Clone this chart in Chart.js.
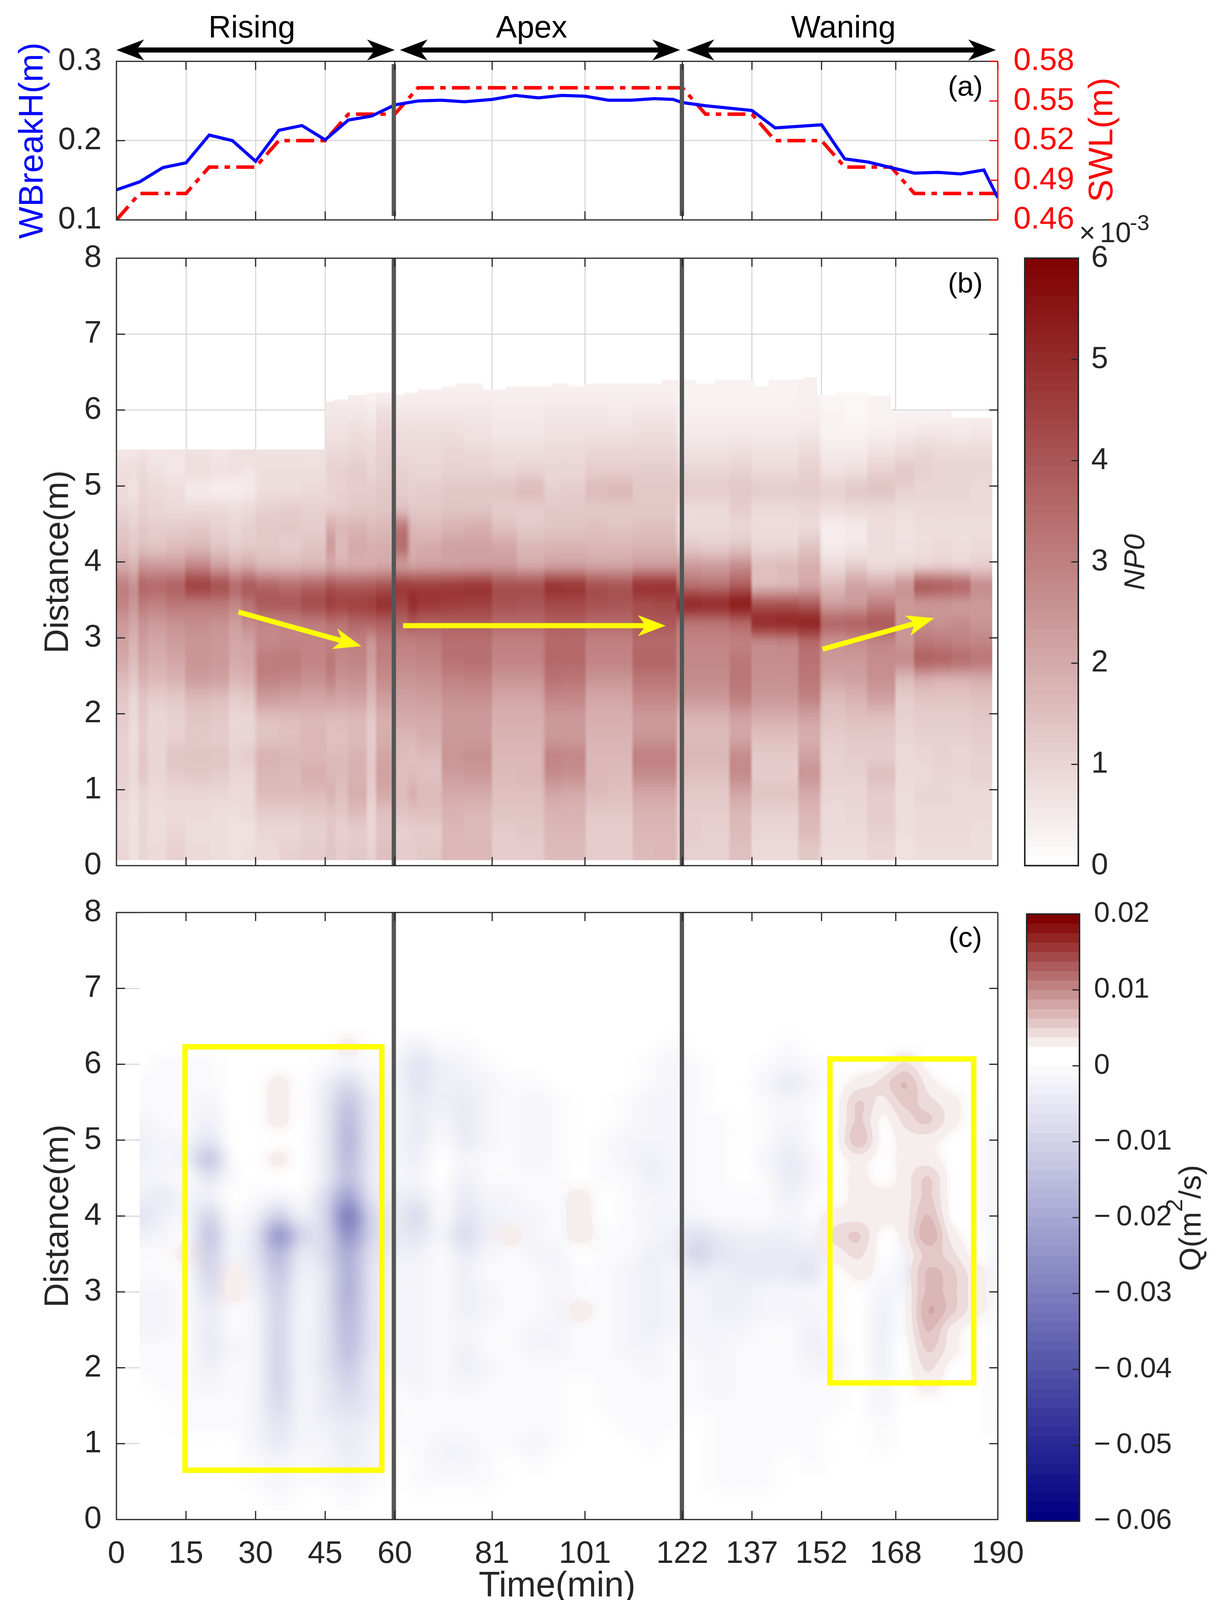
<!DOCTYPE html>
<html>
<head>
<meta charset="utf-8">
<title>NP0 and Q</title>
<script src="https://cdn.jsdelivr.net/npm/chart.js@4"></script>
<style>
  html, body { margin: 0; background: #fff; }
  #fig { position: relative; width: 3115px; height: 4130px; overflow: hidden; background: #fff; }
  canvas { position: absolute; }
</style>
</head>
<body>
<div id="fig"></div>
<script>
// tick values
const timeTicks = [0, 15, 30, 45, 60, 81, 101, 122, 137, 152, 168, 190];
const distTicks = [0, 1, 2, 3, 4, 5, 6, 7, 8];
const waveTicks = [0.1, 0.2, 0.3];
const swlTicks = [0.46, 0.49, 0.52, 0.55, 0.58];
const npBarTicks = [0, 1, 2, 3, 4, 5, 6];
const qBarTicks = [-0.06, -0.05, -0.04, -0.03, -0.02, -0.01, 0, 0.01, 0.02];
const qBarLabels = ['\u2212\u20090.06', '\u2212\u20090.05', '\u2212\u20090.04', '\u2212\u20090.03', '\u2212\u20090.02', '\u2212\u20090.01', '0', '0.01', '0.02'];
const phaseDividers = [59.8, 121.9];

// panel (a)
const lineTimes = [0, 5, 10, 15, 20, 25, 30, 35, 40, 45, 50, 55, 60, 65, 70, 75, 81, 86, 91, 96, 101, 106, 111, 116, 120, 122, 127, 132, 137, 142, 147, 152, 157, 162, 167, 172, 177, 182, 187, 190];
const waveBreak = [0.138, 0.148, 0.166, 0.172, 0.207, 0.2, 0.174, 0.213, 0.219, 0.201, 0.226, 0.231, 0.245, 0.25, 0.251, 0.249, 0.252, 0.257, 0.254, 0.257, 0.256, 0.251, 0.251, 0.253, 0.252, 0.248, 0.244, 0.241, 0.238, 0.216, 0.218, 0.22, 0.177, 0.173, 0.166, 0.159, 0.16, 0.158, 0.163, 0.128];
const swlValues = [0.46, 0.48, 0.48, 0.48, 0.5, 0.5, 0.5, 0.52, 0.52, 0.52, 0.54, 0.54, 0.54, 0.56, 0.56, 0.56, 0.56, 0.56, 0.56, 0.56, 0.56, 0.56, 0.56, 0.56, 0.56, 0.56, 0.54, 0.54, 0.54, 0.52, 0.52, 0.52, 0.5, 0.5, 0.5, 0.48, 0.48, 0.48, 0.48, 0.48];

// panel (b): NP0 x 1e-3, one profile per time block, bottom to top
const npEdges = [0, 3, 5, 7, 11, 15, 20, 24, 27, 30, 35, 40, 45, 47, 50, 54, 56, 60, 63, 65, 70, 75, 81, 86, 92, 96, 101, 106, 111, 116, 121, 126, 132, 137, 142, 147, 152, 157, 162, 168, 172, 176, 180, 184, 188.8];
const npRows = [0.195, 0.445, 0.695, 0.945, 1.195, 1.445, 1.695, 1.945, 2.195, 2.445, 2.695, 2.945, 3.195, 3.445, 3.695, 3.945, 4.195, 4.445, 4.695, 4.945, 5.195, 5.445, 5.695, 5.945, 6.195, 6.445];
const npValues = [
  [1.0,0.9,0.9,1.0,1.1,1.1,1.1,1.2,1.3,1.6,2.0,2.2,2.4,2.9,3.0,2.0,1.5,1.3,1.0,0.8,0.8,0.6,0.6,0.6,0.6,0.6],
  [0.7,0.7,0.7,0.8,0.9,0.9,0.8,0.9,1.0,1.3,1.6,1.8,2.1,2.5,2.6,1.8,1.3,1.1,0.9,0.7,0.8,0.6,0.6,0.6,0.6,0.6],
  [1.0,1.0,1.0,1.0,1.3,1.3,1.2,1.3,1.4,1.8,2.1,2.3,2.6,3.1,3.6,2.5,1.5,1.3,1.1,1.0,0.9,0.7,0.6,0.6,0.6,0.6],
  [0.9,0.8,0.8,0.9,1.0,1.0,1.0,1.0,1.2,1.6,1.9,2.1,2.4,3.0,3.5,2.4,1.4,1.2,1.0,0.9,0.7,0.6,0.6,0.6,0.6,0.6],
  [1.1,1.0,0.9,1.0,1.2,1.4,1.1,1.1,1.3,1.8,2.1,2.3,2.6,3.2,3.7,2.4,1.6,1.2,0.9,0.8,0.6,0.6,0.6,0.6,0.6,0.6],
  [0.9,0.8,0.9,1.0,1.3,1.4,1.3,1.4,1.6,2.3,2.5,2.5,2.7,3.2,4.5,2.9,1.7,1.3,0.9,0.5,0.8,0.7,0.6,0.6,0.6,0.6],
  [0.8,0.8,0.8,1.0,1.2,1.4,1.2,1.3,1.5,2.2,2.4,2.4,2.6,3.2,4.1,2.3,1.4,1.1,0.9,0.4,0.7,0.6,0.6,0.6,0.6,0.6],
  [0.7,0.7,0.8,0.9,1.0,1.1,1.0,1.0,1.2,1.7,2.0,2.1,2.3,2.9,3.5,1.9,1.2,1.0,0.8,0.4,0.7,0.7,0.6,0.6,0.6,0.6],
  [0.8,0.7,0.9,0.9,1.0,1.2,1.0,1.0,1.3,1.8,2.1,2.2,2.7,3.3,3.9,2.1,1.3,1.1,0.9,0.5,0.6,0.8,0.6,0.6,0.6,0.6],
  [0.9,1.0,1.2,1.6,1.7,1.8,1.4,1.5,2.3,2.9,3.1,2.8,2.9,3.9,3.6,1.7,1.3,1.3,1.1,0.8,0.8,0.7,0.6,0.6,0.6,0.6],
  [1.1,1.0,1.2,1.6,1.6,1.7,1.5,1.6,2.2,2.8,3.1,2.9,3.0,3.9,3.4,1.7,1.2,1.3,1.2,0.8,0.8,0.7,0.6,0.6,0.6,0.6],
  [1.2,1.1,1.3,1.6,1.9,1.7,1.7,1.7,2.1,2.6,2.9,2.9,3.1,4.2,3.6,1.8,1.4,1.2,1.1,0.9,0.8,0.7,0.6,0.6,0.6,0.6],
  [1.4,1.3,1.4,1.8,1.7,1.6,1.5,1.6,2.2,2.9,3.2,3.0,3.4,4.6,4.0,2.1,2.3,2.0,1.2,1.0,1.1,0.9,0.7,0.6,0.5,0.5],
  [1.2,1.1,1.3,1.5,1.6,1.6,1.5,1.6,2.1,2.5,2.8,2.9,3.3,4.4,3.8,1.9,1.6,1.7,1.2,1.1,1.1,0.9,0.7,0.6,0.4,0.4],
  [1.3,1.2,1.6,1.9,1.8,1.8,1.6,1.7,2.2,2.6,2.9,3.0,3.6,4.5,3.8,2.0,2.0,1.8,1.3,1.2,1.2,1.0,0.8,0.6,0.4,0.4],
  [1.1,1.0,1.0,1.2,1.3,1.3,1.2,1.3,1.7,2.0,2.3,2.5,3.6,4.6,3.8,2.0,1.9,1.6,1.3,1.2,1.0,0.9,0.7,0.5,0.3,0.3],
  [1.5,1.4,1.5,2.0,2.2,2.1,1.9,1.9,2.3,2.7,3.0,3.1,3.8,4.9,4.0,2.1,1.9,1.7,1.4,1.3,1.2,1.1,1.0,0.8,0.4,0.3],
  [1.2,1.1,1.4,1.6,1.5,1.6,1.7,2.0,2.2,2.5,2.8,3.0,3.6,4.4,4.6,2.4,3.4,3.2,1.5,1.2,1.1,0.9,0.8,0.6,0.4,0.3],
  [1.2,1.2,1.5,1.9,1.6,1.5,1.7,2.0,2.2,2.5,2.8,3.0,3.9,5.0,4.5,2.2,1.9,1.7,1.3,1.1,1.0,0.9,0.8,0.6,0.4,0.3],
  [1.3,1.2,1.5,1.6,1.5,1.6,1.9,2.0,2.3,2.6,2.9,3.1,3.7,4.7,4.5,2.3,2.0,1.6,1.3,1.2,1.0,0.9,0.8,0.6,0.4,0.3],
  [1.7,1.7,1.8,2.0,2.3,2.5,2.4,2.4,2.6,2.9,3.3,3.4,3.8,4.6,4.6,2.3,2.2,1.8,1.4,1.3,1.1,1.0,0.8,0.6,0.4,0.3],
  [1.7,1.6,1.7,2.0,2.4,2.6,2.4,2.4,2.6,3.0,3.4,3.4,3.8,4.5,4.7,2.4,2.2,1.9,1.4,1.3,1.1,0.9,0.7,0.6,0.4,0.3],
  [1.2,1.2,1.4,1.5,1.6,1.7,1.8,1.9,2.1,2.5,2.9,3.0,3.5,4.1,4.1,2.4,2.1,1.5,1.2,1.4,1.0,0.8,0.6,0.5,0.4,0.3],
  [1.2,1.3,1.4,1.5,1.7,1.7,1.8,1.9,2.1,2.5,2.9,3.0,3.5,4.0,4.1,2.1,1.7,1.3,1.2,1.6,1.1,0.8,0.6,0.5,0.4,0.3],
  [1.6,1.7,1.8,2.1,2.7,2.9,2.4,2.4,2.8,3.3,3.5,3.5,3.8,4.3,4.8,2.3,1.8,1.4,1.3,1.1,1.0,0.9,0.7,0.6,0.4,0.3],
  [1.6,1.7,1.8,2.0,2.6,2.8,2.4,2.4,2.8,3.2,3.5,3.5,3.8,4.3,4.7,2.3,1.8,1.4,1.3,1.2,1.0,0.9,0.7,0.6,0.4,0.3],
  [1.2,1.2,1.3,1.6,1.7,1.7,1.8,1.9,2.1,2.5,2.9,3.0,3.5,4.1,4.1,2.2,1.7,1.5,1.3,1.6,1.2,1.0,0.7,0.6,0.4,0.3],
  [1.2,1.2,1.3,1.5,1.6,1.7,1.8,1.9,2.1,2.5,2.9,3.0,3.5,4.0,4.0,2.2,1.7,1.4,1.3,1.7,1.2,1.0,0.7,0.5,0.4,0.3],
  [1.6,1.7,1.8,2.1,2.7,3.0,2.5,2.4,2.8,3.2,3.6,3.5,3.9,4.2,4.8,2.4,1.8,1.5,1.3,1.3,1.2,1.0,0.8,0.6,0.4,0.4],
  [1.7,1.7,1.8,2.1,2.7,3.0,2.5,2.4,2.8,3.2,3.6,3.5,3.9,4.3,4.8,2.4,1.8,1.5,1.3,1.3,1.2,1.0,0.8,0.6,0.4,0.4],
  [1.1,1.2,1.2,1.3,1.5,1.7,1.6,1.8,2.4,2.7,2.8,2.9,3.3,5.1,3.4,2.4,1.3,0.9,0.9,1.2,1.0,0.7,0.5,0.4,0.3,0.3],
  [1.1,1.1,1.2,1.3,1.5,1.7,1.6,1.8,2.4,2.7,2.8,2.9,3.3,5.0,3.3,2.3,1.2,0.9,0.9,1.2,1.0,0.7,0.5,0.4,0.3,0.3],
  [1.5,1.6,1.7,2.1,2.7,2.7,2.1,2.2,3.0,3.2,3.2,3.0,3.6,5.4,3.8,2.7,1.4,1.0,1.2,1.3,1.1,0.8,0.5,0.4,0.3,0.3],
  [0.9,1.0,1.1,1.4,1.2,1.3,1.5,1.9,2.4,2.6,2.7,2.8,5.0,4.0,1.6,1.5,1.0,0.8,0.9,1.2,0.9,0.7,0.5,0.4,0.3,0.3],
  [0.9,1.0,1.1,1.4,1.2,1.3,1.5,1.9,2.4,2.6,2.7,2.9,5.1,4.0,1.7,1.6,1.0,0.8,0.9,1.2,0.9,0.7,0.5,0.4,0.3,0.3],
  [1.3,1.6,1.7,2.0,2.5,2.2,1.9,2.2,2.9,3.2,3.3,3.5,5.2,3.8,2.1,1.9,1.4,0.9,1.0,1.2,1.1,0.9,0.6,0.4,0.4,0.4],
  [0.8,0.9,0.9,1.0,1.1,1.1,1.2,1.4,1.6,2.1,2.4,2.6,3.6,2.3,1.6,0.9,0.5,0.4,0.8,1.1,0.7,0.5,0.3,0.3,0.2,0.2],
  [0.8,0.9,1.0,1.0,1.1,1.2,1.3,1.5,1.8,2.2,2.4,2.7,3.7,2.4,2.2,1.2,0.6,0.5,0.9,1.3,0.8,0.5,0.3,0.2,0.2,0.2],
  [1.0,1.1,1.2,1.2,1.5,1.2,1.3,1.5,2.2,2.6,2.7,2.9,3.9,3.0,2.0,0.9,0.8,0.8,0.9,1.4,1.1,0.7,0.4,0.3,0.3,0.3],
  [0.7,0.8,0.8,0.8,0.9,0.9,1.0,1.1,1.2,1.6,2.7,2.5,2.5,2.4,2.5,1.0,0.7,0.7,0.8,1.1,1.3,0.9,0.5,0.3,0.3,0.3],
  [0.8,0.9,0.9,1.0,0.9,1.0,1.1,1.2,1.4,1.9,3.7,3.2,2.7,2.5,3.9,1.1,0.8,0.8,0.9,1.0,1.1,1.0,0.6,0.3,0.3,0.3],
  [0.8,0.9,0.9,1.0,1.0,1.1,1.1,1.2,1.4,1.8,3.6,3.1,2.6,2.5,3.8,1.2,0.9,0.8,0.9,1.0,1.0,0.9,0.6,0.3,0.3,0.3],
  [0.8,0.9,0.9,0.9,1.0,1.0,1.1,1.2,1.4,1.8,3.4,3.0,2.7,2.4,3.6,1.1,0.8,0.8,0.9,1.0,1.0,0.9,0.5,0.4,0.3,0.3],
  [0.8,0.8,0.9,0.9,1.1,1.1,1.2,1.3,1.5,1.9,3.2,2.9,2.5,2.4,2.7,1.2,0.9,0.8,0.9,0.9,1.0,0.9,0.6,0.4,0.3,0.3]
];
// upper limit of the NP0 data along time
const npTopT = [0, 45, 47, 50, 54, 60, 62, 65, 70, 73, 79, 84, 94, 97.5, 101, 117.6, 125, 129, 137.6, 140.6, 148, 151, 155, 162, 167, 180, 188.8];
const npTopY = [5.48, 6.11, 6.14, 6.2, 6.23, 6.2, 6.23, 6.27, 6.31, 6.35, 6.27, 6.31, 6.35, 6.31, 6.35, 6.4, 6.35, 6.4, 6.31, 6.4, 6.43, 6.2, 6.23, 6.19, 5.99, 5.9];

// panel (c): Q x 1e-3, one profile per time, bottom to top
const qTimes = [5, 10, 15, 20, 25, 30, 35, 40, 45, 50, 55, 60, 65, 70, 75, 80, 85, 90, 95, 100, 105, 110, 115, 120, 125, 130, 135, 140, 145, 150, 155, 160, 165, 170, 175, 180, 185, 190];
const qRows = [0.25, 0.5, 0.75, 1, 1.25, 1.5, 1.75, 2, 2.25, 2.5, 2.75, 3, 3.25, 3.5, 3.75, 4, 4.25, 4.5, 4.75, 5, 5.25, 5.5, 5.75, 6, 6.25, 6.5];
const qValues = [
  [0,0,0,0,0,0,0,-1,-1,-2,-2,-2,-1,-1,-3,-6,-3,-2,-3,-3.5,-2,-1,-1,0,0,0],
  [0,0,0,0,0,0,-1,-1,-1,-2,-2,-2,-1,-1,-2,-3,-4,-2,-2,-2,-1,-1,-1,-1,0,0],
  [0,0,0,0,-1,-1,-1,-1,-1,-1,-1,-1,-1,3,-1,-2,-2,-1,-3,-2,-1,-1,-1,-1,0,0],
  [0,0,0,0,-1,-1,-2,-3,-4.5,-4,-5,-7,-9,-11,-13,-9,-3,-6,-13,-6,-3,-2,-1,-1,0,0],
  [0,0,0,0,-1,-1,-1,-1,-2,-1,-1,3,3,-2,-2,-1,0,-1,-1,0,0,0,0,0,0,0],
  [0,-1,-1,-2,-2,-2,-2,-2.5,-2.5,-2,-2.5,-3,-4,-6,-6,-3,-1,0,0,0,0,0,0,0,0,0],
  [-1,-2,-2.5,-4,-6,-8,-9,-10,-9,-10,-10,-11,-13,-17,-25,-11,-2,0,3,0,3,3,3,0,0,0],
  [0,-1,-1,-2,-2,-2,-2,-2,-2,-2,-2,-2,-3,-5,-9,-3,-1,0,0,0,0,0,0,0,0,0],
  [0,-1,-2,-2,-3,-4,-5,-6,-6,-6,-6,-6,-6,-8,-8,-9,-8,-4,-4,-4,-4,-4,-3,-1,0,0],
  [-1,-2,-3,-4,-5,-7,-9,-12,-14,-16,-17,-18,-18,-20,-26,-31,-22,-15,-16,-17,-16,-13,-8,-2,3,0],
  [0,-1,-2,-2,-3,-4,-4,-5,-6,-6,-6,-6,-6,-7,-9,-9,-6,-4,-4,-4,-4,-4,-2,-1,0,0],
  [0,0,0,-1,-1,-1,-1,-2,-2,-2,-2,-2,-2,-3,-4,-4,-3,-2,-2,-2,-2,-2,-2,-2,-1,0],
  [0,-1,-1,-1,-1,-1,-2,-2,-2,-2,-2,-2,-2,-3,-6,-8,-5,-2,-3,-5,-4,-4,-6,-6,-3,0],
  [0,-1,-2,-2,-1,-1,-1,-1,-1,-1,-1,-1,-1,-1,-2,-1,-1,0,0,-1,-2,-3,-3,-3,-1,0],
  [0,-1,-2,-2,-1,-1,-2,-3,-3,-2,-3,-3,-3,-5,-8,-6,-5,-3,-2,-4,-4,-4,-3,-2,-1,0],
  [0,-1,-1,-1,-1,-1,-1,-2,-1,-1,-2,-2,-1,-2,-3,-3,-2,-1,-1,-2,-2,-2,-2,-1,0,0],
  [0,0,0,-1,-1,-1,-1,-1,-1,-1,-1,-1,-1,-1,3,-2,-2,-1,-1,-1,-1,-1,-1,0,0,0],
  [0,0,-1,-2,-1,-1,-1,-1,-2,-2,-1,-1,-1,-2,-2,-2,-1,-1,-2,-2,-2,-2,-1,0,0,0],
  [0,0,0,-1,-1,-1,-1,-1,-2,-2,-2,-2,-2,-2,-1,-1,-1,-1,-1,-1,-1,-1,0,0,0,0],
  [0,0,0,0,0,0,0,-1,-1,-1,3,-1,-1,0,3,3,3,0,0,0,0,0,0,0,0,0],
  [0,0,0,0,0,-1,-1,-1,-1,-1,-1,-1,-1,-1,-1,0,0,-1,-1,-1,0,0,0,0,0,0],
  [0,0,0,0,-1,-1,-1,-1,-2,-2,-2,-2,-2,-1,-1,-1,-1,-1,-2,-2,-1,-1,0,0,0,0],
  [0,0,0,-1,-1,-1,-1,-2,-2,-3,-3,-3,-3,-3,-2,-2,-2,-3,-3,-2,-2,-2,-1,-1,0,0],
  [0,0,0,0,-1,-1,-1,-1,-1,-2,-2,-2,-2,-3,-3,-2,-2,-2,-2,-2,-2,-2,-2,-2,-1,0],
  [0,0,0,0,0,-1,-1,-1,-2,-2,-2,-2,-4,-10,-7,-2,-1,-1,-1,-1,-1,-1,-1,-1,0,0],
  [0,-1,-1,-1,-1,-1,-2,-2,-2,-2,-3,-3,-3,-6,-4,-1,-1,-1,-1,-1,-1,0,0,0,0,0],
  [0,-1,-1,-1,-1,-1,-1,-1,-1,-2,-3,-3,-4,-5,-3,-1,-1,0,0,0,0,0,0,0,0,0],
  [0,-1,-1,-1,-1,-1,-1,-1,-1,-1,-2,-2,-5,-5,-3,-1,-1,-1,-2,-1,-1,-1,-2,-1,0,0],
  [0,0,0,-1,-1,-1,-1,-1,-1,-1,-2,-2,-5,-5,-3,-2,-3,-4,-4,-3,-2,-2,-4,-2,-1,0],
  [0,0,-1,-1,-1,-1,-1,-2,-3,-3,-2,-2,-6,-5,-2,-1,-1,-2,-2,-1,-1,-1,-2,-1,0,0],
  [0,0,0,0,0,-1,-1,-2,-2,-1,-1,-1,0,3,4,3,0,0,0,0,0,0,0,0,0,0],
  [0,0,0,0,0,0,0,0,0,0,0,0,3,4,5,3,3,3,3,7,5,5,3,0,0,0],
  [0,0,0,-1,-1,-2,-2.5,-3,-3,-3,-3,-2,-1,0,0,3,3,0,0,0,0,3,4,0,0,0],
  [0,0,0,0,0,0,0,0,0,-1,-1,-2,-3,-2,3,3,3,3,3,3,4,6,7,4,0,0],
  [0,0,0,0,0,0,3,4,6,7,8,7,7,6,8,7,6,5,3,3,5,4,3,0,0,0],
  [0,0,0,0,0,0,0,0,3,3,5,5,5,4,3,0,0,0,0,0,3,3,0,0,0,0],
  [0,0,0,0,0,0,0,0,0,0,3,3,3,0,0,0,0,0,0,0,0,0,0,0,0,0],
  [0,0,0,0,-1,-1,-1,-1,-1,-1,-1,-2,-2,-2,-2,-2,-2,-2,-2,-2,-1,-1,0,0,0,0]
];

const FONT = 'Liberation Sans';
const INK = '#262626';
Chart.defaults.font.family = FONT;
Chart.defaults.animation = false;

const fig = document.getElementById('fig');

function addCanvas(left, top, w, h) {
  const c = document.createElement('canvas');
  c.width = w; c.height = h;
  c.style.left = left + 'px'; c.style.top = top + 'px';
  fig.appendChild(c);
  return c;
}

function npColor(v) {
  const f = Math.min(1, v / 6);
  const g = Math.round(255 * (1 - f));
  return `rgb(${Math.round(255 - 127 * f)},${g},${g})`;
}

// Q colours come in bands 1.25e-3 wide, white around zero
function qColor(v) {
  if (v > 0) {
    const k = Math.max(0, Math.floor(v / 1.25) - 1);
    const f = k / 14, g = Math.round(255 * (1 - f));
    return `rgb(${Math.round(255 - 127 * f)},${g},${g})`;
  }
  const k = Math.ceil(-v / 1.25);
  const f = k / 48, g = Math.round(255 * (1 - f));
  return `rgb(${g},${g},${Math.round(255 - 127 * f)})`;
}

function fixedTicks(values) {
  return s => { s.ticks = values.map(v => ({ value: v })); };
}

// no extra room for half labels, the panels have fixed places
function noPadding(s) {
  s.paddingTop = s.paddingBottom = s.paddingLeft = s.paddingRight = 0;
}

function rotatedText(ctx, text, x, y, font, color) {
  ctx.save();
  ctx.translate(x, y);
  ctx.rotate(-Math.PI / 2);
  ctx.font = font;
  ctx.fillStyle = color;
  ctx.textAlign = 'center';
  ctx.textBaseline = 'middle';
  ctx.fillText(text, 0, 0);
  ctx.restore();
}

function arrowHead(ctx, x, y, ang, len, half) {
  ctx.save();
  ctx.translate(x, y);
  ctx.rotate(ang);
  ctx.beginPath();
  ctx.moveTo(0, 0);
  ctx.lineTo(-len, -half);
  ctx.lineTo(-len * 0.72, 0);
  ctx.lineTo(-len, half);
  ctx.closePath();
  ctx.fill();
  ctx.restore();
}

function arrow(ctx, x0, y0, x1, y1, color, both) {
  const ang = Math.atan2(y1 - y0, x1 - x0);
  const back = 50;
  ctx.save();
  ctx.strokeStyle = color;
  ctx.fillStyle = color;
  ctx.lineWidth = 13;
  ctx.beginPath();
  ctx.moveTo(x0 + (both ? back : 0) * Math.cos(ang), y0 + (both ? back : 0) * Math.sin(ang));
  ctx.lineTo(x1 - back * Math.cos(ang), y1 - back * Math.sin(ang));
  ctx.stroke();
  arrowHead(ctx, x1, y1, ang, 71, 27);
  if (both) arrowHead(ctx, x0, y0, ang + Math.PI, 71, 27);
  ctx.restore();
}

function frame(chart, ctx, rightColor) {
  const a = chart.chartArea, sx = chart.scales.x, sy = chart.scales.y;
  ctx.save();
  ctx.strokeStyle = INK;
  ctx.lineWidth = 3;
  ctx.beginPath();
  ctx.moveTo(a.right, a.top); ctx.lineTo(a.left, a.top);
  ctx.lineTo(a.left, a.bottom); ctx.lineTo(a.right, a.bottom);
  if (!rightColor) ctx.lineTo(a.right, a.top);
  timeTicks.forEach(t => {
    const x = sx.getPixelForValue(t);
    ctx.moveTo(x, a.top); ctx.lineTo(x, a.top + 22);
    ctx.moveTo(x, a.bottom); ctx.lineTo(x, a.bottom - 22);
  });
  sy.ticks.forEach(t => {
    const y = sy.getPixelForValue(t.value);
    ctx.moveTo(a.left, y); ctx.lineTo(a.left + 22, y);
    if (!rightColor) { ctx.moveTo(a.right, y); ctx.lineTo(a.right - 22, y); }
  });
  ctx.stroke();
  ctx.restore();
}

function dividers(chart, ctx, y0, y1) {
  const sx = chart.scales.x;
  ctx.save();
  ctx.strokeStyle = '#555555';
  ctx.lineWidth = 11;
  ctx.beginPath();
  phaseDividers.forEach(t => {
    const x = sx.getPixelForValue(t);
    ctx.moveTo(x, y0); ctx.lineTo(x, y1);
  });
  ctx.stroke();
  ctx.restore();
}

function panelLetter(chart, ctx, text) {
  const s = chart.scales.x;
  ctx.save();
  ctx.font = `73px "${FONT}"`;
  ctx.fillStyle = '#000';
  ctx.textAlign = 'center';
  ctx.textBaseline = 'middle';
  ctx.fillText(text, s.getPixelForValue(183), chart.chartArea.top + 68);
  ctx.restore();
}

// snaps pale red pixels to the colour bands of the Q scale
function bandReds(ctx, x, y, w, h) {
  const img = ctx.getImageData(x, y, w, h), d = img.data;
  for (let i = 0; i < d.length; i += 4) {
    if (d[i] - d[i + 2] > 1) {
      const k = Math.ceil((255 - d[i + 1]) / 255 * 14 - 0.55);
      if (k < 1) continue;
      const f = k / 14;
      d[i] = Math.round(255 - 127 * f);
      d[i + 1] = d[i + 2] = Math.round(255 * (1 - f));
    }
  }
  ctx.putImageData(img, x, y);
}

// turns the cells of a panel into a smooth field, tw x th is the cell raster
function smoothing(cfg) {
  let under = null;
  return {
    id: 'smoothing',
    beforeDatasetsDraw(chart) {
      under = document.createElement('canvas');
      under.width = chart.width; under.height = chart.height;
      under.getContext('2d').drawImage(chart.canvas, 0, 0);
    },
    afterDatasetsDraw(chart) {
      const ctx = chart.ctx, sx = chart.scales.x, sy = chart.scales.y;
      const x0 = sx.getPixelForValue(cfg.t0), x1 = sx.getPixelForValue(cfg.t1);
      const y0 = sy.getPixelForValue(cfg.yTop), y1 = sy.getPixelForValue(cfg.yBottom);
      const tmp = document.createElement('canvas');
      tmp.width = cfg.tw || Math.round((x1 - x0) / 8);
      tmp.height = cfg.th;
      const tc = tmp.getContext('2d');
      tc.imageSmoothingEnabled = false;
      tc.drawImage(chart.canvas, x0, y0, x1 - x0, y1 - y0, 0, 0, tmp.width, tmp.height);
      ctx.clearRect(0, 0, chart.width, chart.height);
      ctx.drawImage(under, 0, 0);
      ctx.save();
      ctx.beginPath();
      cfg.clip(ctx, sx, sy);
      ctx.clip();
      if (cfg.paper) { ctx.fillStyle = '#fff'; ctx.fillRect(0, 0, chart.width, chart.height); }
      ctx.imageSmoothingEnabled = true;
      ctx.imageSmoothingQuality = 'high';
      ctx.drawImage(tmp, x0, y0, x1 - x0, y1 - y0);
      ctx.restore();
      if (cfg.bands) {
        const a = chart.chartArea;
        bandReds(ctx, Math.round(a.left), Math.round(a.top), Math.round(a.right - a.left), Math.round(a.bottom - a.top));
      }
    }
  };
}

function axisX(opts) {
  return Object.assign({
    type: 'linear', min: 0, max: 190,
    afterBuildTicks: fixedTicks(timeTicks),
    grid: { color: '#d9d9d9', lineWidth: 3, drawTicks: false },
    border: { display: false }
  }, opts);
}

function axisDistance() {
  return {
    type: 'linear', min: 0, max: 8, offset: false,
    afterBuildTicks: fixedTicks(distTicks),
    afterFit: s => { s.width = 298; noPadding(s); },
    grid: { color: '#d9d9d9', lineWidth: 3, drawTicks: false, offset: false },
    border: { display: false },
    ticks: { color: INK, font: { size: 80 }, padding: 38, autoSkip: false, maxRotation: 0 },
    title: { display: true, text: 'Distance(m)', color: INK, font: { size: 87, lineHeight: 1.2 }, padding: { top: 98, bottom: 0 } }
  };
}

// panel (a)
new Chart(addCanvas(0, 0, 3115, 640), {
  type: 'line',
  data: {
    datasets: [
      { label: 'WBreakH', yAxisID: 'y', data: lineTimes.map((t, i) => ({ x: t, y: waveBreak[i] })), borderColor: '#0000ff', borderWidth: 8, pointRadius: 0, tension: 0 },
      { label: 'SWL', yAxisID: 'y1', data: lineTimes.map((t, i) => ({ x: t, y: swlValues[i] })), borderColor: '#ff0000', borderWidth: 9, borderDash: [46, 16, 14, 16], pointRadius: 0, tension: 0 }
    ]
  },
  options: {
    responsive: false, devicePixelRatio: 1,
    layout: { padding: { top: 157, bottom: 77 } },
    plugins: { legend: { display: false }, tooltip: { enabled: false } },
    scales: {
      x: axisX({ ticks: { display: false }, afterFit: s => { s.height = 0; noPadding(s); } }),
      y: {
        type: 'linear', min: 0.1, max: 0.3,
        afterBuildTicks: fixedTicks(waveTicks),
        afterFit: s => { s.width = 298; noPadding(s); },
        grid: { color: '#d9d9d9', lineWidth: 3, drawTicks: false },
        border: { display: false },
        ticks: { color: INK, font: { size: 80 }, padding: 38, callback: v => v.toFixed(1) },
        title: { display: true, text: 'WBreakH(m)', color: '#0000ff', font: { size: 87, lineHeight: 1.2 }, padding: { top: 33, bottom: 0 } }
      },
      y1: {
        type: 'linear', position: 'right', min: 0.46, max: 0.58,
        afterBuildTicks: fixedTicks(swlTicks),
        afterFit: s => { s.width = 561; noPadding(s); },
        grid: { display: false },
        border: { display: false },
        ticks: { color: '#ff0000', font: { size: 80 }, padding: 32, callback: v => v.toFixed(2) }
      }
    }
  },
  plugins: [{
    id: 'overlayA',
    afterDraw(chart) {
      const ctx = chart.ctx, a = chart.chartArea, sx = chart.scales.x, s1 = chart.scales.y1;
      dividers(chart, ctx, a.top + 7, a.bottom - 10);
      frame(chart, ctx, '#ff0000');
      ctx.save();
      ctx.strokeStyle = '#ff0000';
      ctx.lineWidth = 3;
      ctx.beginPath();
      ctx.moveTo(a.right, a.top); ctx.lineTo(a.right, a.bottom);
      swlTicks.forEach(v => {
        const y = s1.getPixelForValue(v);
        ctx.moveTo(a.right, y); ctx.lineTo(a.right - 22, y);
      });
      ctx.stroke();
      ctx.restore();
      rotatedText(ctx, 'SWL(m)', 2823, 358, `87px "${FONT}"`, '#ff0000');
      panelLetter(chart, ctx, '(a)');
      // phase arrows above the axes
      const phases = [[0, 60, 29.2, 'Rising'], [61.1, 121.5, 89.5, 'Apex'], [122.9, 189.6, 156.7, 'Waning']];
      ctx.save();
      ctx.font = `80px "${FONT}"`;
      ctx.fillStyle = '#000';
      ctx.textAlign = 'center';
      ctx.textBaseline = 'alphabetic';
      phases.forEach(p => {
        arrow(ctx, sx.getPixelForValue(p[0]), 128, sx.getPixelForValue(p[1]), 128, '#000', true);
        ctx.fillText(p[3], sx.getPixelForValue(p[2]), 96);
      });
      ctx.restore();
    }
  }]
});

// panel (b)
new Chart(addCanvas(0, 620, 3115, 1700), {
  type: 'bar',
  data: {
    datasets: npValues.map((col, i) => ({
      data: col.map((v, j) => ({ x: [npEdges[i], npEdges[i + 1]], y: npRows[j] })),
      backgroundColor: col.map(npColor),
      grouped: false, barPercentage: 1, categoryPercentage: 1, borderWidth: 0, clip: false
    }))
  },
  options: {
    indexAxis: 'y',
    responsive: false, devicePixelRatio: 1,
    layout: { padding: { top: 41, bottom: 104, right: 561 } },
    plugins: { legend: { display: false }, tooltip: { enabled: false } },
    scales: {
      x: axisX({ ticks: { display: false }, afterFit: s => { s.height = 0; noPadding(s); } }),
      y: axisDistance()
    }
  },
  plugins: [smoothing({
    t0: 0, t1: 188.8, yBottom: 0.07, yTop: 6.57, th: npRows.length,
    clip(ctx, sx, sy) {
      ctx.moveTo(sx.getPixelForValue(0), sy.getPixelForValue(0.07));
      npTopY.forEach((top, i) => {
        ctx.lineTo(sx.getPixelForValue(npTopT[i]), sy.getPixelForValue(top));
        ctx.lineTo(sx.getPixelForValue(npTopT[i + 1]), sy.getPixelForValue(top));
      });
      ctx.lineTo(sx.getPixelForValue(188.8), sy.getPixelForValue(0.07));
      ctx.closePath();
    }
  }), {
    id: 'overlayB',
    afterDraw(chart) {
      const ctx = chart.ctx, a = chart.chartArea, sx = chart.scales.x, sy = chart.scales.y;
      dividers(chart, ctx, a.top, a.bottom);
      frame(chart, ctx);
      panelLetter(chart, ctx, '(b)');
      const trends = [[26.3, 3.34, 52.8, 2.89], [61.8, 3.16, 118.4, 3.16], [152.2, 2.85, 176.3, 3.26]];
      trends.forEach(t => arrow(ctx, sx.getPixelForValue(t[0]), sy.getPixelForValue(t[1]), sx.getPixelForValue(t[2]), sy.getPixelForValue(t[3]), '#ffff00'));
    }
  }]
});

// panel (c)
new Chart(addCanvas(0, 2300, 3115, 1830), {
  type: 'bar',
  data: {
    datasets: qValues.map((col, i) => ({
      data: col.map((v, j) => ({ x: [qTimes[i] - 2.5, qTimes[i] + 2.5], y: qRows[j] })),
      backgroundColor: col.map(qColor),
      grouped: false, barPercentage: 1, categoryPercentage: 1, borderWidth: 0, clip: false
    }))
  },
  options: {
    indexAxis: 'y',
    responsive: false, devicePixelRatio: 1,
    layout: { padding: { top: 36, right: 561 } },
    plugins: { legend: { display: false }, tooltip: { enabled: false } },
    scales: {
      x: axisX({
        afterFit: s => { s.height = 240; noPadding(s); },
        ticks: { color: INK, font: { size: 80 }, padding: 41, autoSkip: false, maxRotation: 0 },
        title: { display: true, text: 'Time(min)', color: INK, font: { size: 90, lineHeight: 1.2 }, padding: { top: 0, bottom: 14 } }
      }),
      y: axisDistance()
    }
  },
  plugins: [smoothing({
    t0: 2.5, t1: 192.5, yBottom: 0.125, yTop: 6.625, tw: qTimes.length, th: qRows.length, paper: true, bands: true,
    clip(ctx, sx, sy) {
      ctx.rect(sx.getPixelForValue(5), sy.getPixelForValue(8), sx.getPixelForValue(190) - sx.getPixelForValue(5), sy.getPixelForValue(0) - sy.getPixelForValue(8));
    }
  }), {
    id: 'overlayC',
    afterDraw(chart) {
      const ctx = chart.ctx, a = chart.chartArea, sx = chart.scales.x, sy = chart.scales.y;
      dividers(chart, ctx, a.top, a.bottom);
      frame(chart, ctx);
      panelLetter(chart, ctx, '(c)');
      const boxes = [[14.8, 6.23, 57.2, 0.65], [153.8, 6.07, 184.8, 1.8]];
      ctx.save();
      ctx.strokeStyle = '#ffff00';
      ctx.lineWidth = 14;
      boxes.forEach(b => {
        const x = sx.getPixelForValue(b[0]), y = sy.getPixelForValue(b[1]);
        ctx.strokeRect(x, y, sx.getPixelForValue(b[2]) - x, sy.getPixelForValue(b[3]) - y);
      });
      ctx.restore();
    }
  }]
});

// colour bars
function colorBar(left, top, w, h, pad, bands, color, min, max, tickVals, tickLabels, tickPad, tickSize, extra) {
  new Chart(addCanvas(left, top, w, h), {
    type: 'bar',
    data: {
      datasets: [{
        data: bands.map(v => ({ x: [0, 1], y: v })),
        backgroundColor: bands.map(color),
        grouped: false, barPercentage: 1, categoryPercentage: 1, borderWidth: 0
      }]
    },
    options: {
      indexAxis: 'y',
      responsive: false, devicePixelRatio: 1,
      layout: { padding: pad },
      plugins: { legend: { display: false }, tooltip: { enabled: false } },
      scales: {
        x: { type: 'linear', min: 0, max: 1, display: false },
        y: {
          type: 'linear', position: 'right', min: min, max: max, offset: false,
          afterBuildTicks: fixedTicks(tickVals),
          afterFit: s => { s.width = 3115 - pad.right0; noPadding(s); },
          grid: { display: false, offset: false },
          border: { display: false },
          ticks: { color: INK, font: { size: tickSize }, padding: tickPad, autoSkip: false, callback: (v, i) => tickLabels[i] }
        }
      }
    },
    plugins: [{
      id: 'barFrame',
      afterDraw(chart) {
        const ctx = chart.ctx, a = chart.chartArea, sy = chart.scales.y;
        ctx.save();
        ctx.strokeStyle = INK;
        ctx.lineWidth = 4;
        ctx.strokeRect(a.left, a.top, a.right - a.left, a.bottom - a.top);
        ctx.lineWidth = 3;
        ctx.beginPath();
        tickVals.forEach(v => {
          const y = sy.getPixelForValue(v);
          ctx.moveTo(a.right, y); ctx.lineTo(a.right - 18, y);
        });
        ctx.stroke();
        ctx.restore();
        extra(ctx, left, top);
      }
    }]
  });
}

// 64 colour steps in each bar
const npBands = [], qBands = [];
for (let i = 0; i < 64; i++) {
  npBands.push((i + 0.5) * 6 / 64);
  qBands.push(-60 + (i + 0.5) * 1.25);
}

colorBar(2560, 500, 555, 1820, { left: 63, top: 161, bottom: 104, right0: 2760 }, npBands, npColor, 0, 6, npBarTicks, npBarTicks.map(String), 25, 78,
  (ctx, left, top) => {
    rotatedText(ctx, 'NP0', 2908 - left, 1439 - top, `italic 74px "${FONT}"`, INK);
    ctx.save();
    ctx.fillStyle = INK;
    ctx.textAlign = 'left';
    ctx.textBaseline = 'alphabetic';
    ctx.font = `72px "${FONT}"`;
    ctx.fillText('\u00d7', 2762 - left, 620 - top);
    ctx.fillText('10', 2815 - left, 620 - top);
    ctx.font = `56px "${FONT}"`;
    ctx.fillText('-3', 2892 - left, 589 - top);
    ctx.restore();
  });

colorBar(2560, 2300, 555, 1700, { left: 68, top: 40, bottom: 106, right0: 2763 }, qBands.map(v => v / 1000), v => qColor(v * 1000), -0.06, 0.02, qBarTicks, qBarLabels, 29, 73,
  (ctx, left, top) => {
    // Q(m2/s) with a raised 2, read upwards
    ctx.save();
    ctx.translate(3045 - left, 3254 - top);
    ctx.rotate(-Math.PI / 2);
    ctx.fillStyle = INK;
    ctx.textAlign = 'left';
    ctx.textBaseline = 'middle';
    ctx.font = `78px "${FONT}"`;
    const w1 = ctx.measureText('Q(m').width;
    ctx.fillText('Q(m', 0, 6);
    ctx.font = `60px "${FONT}"`;
    const w2 = ctx.measureText('2').width;
    ctx.fillText('2', w1, -36);
    ctx.font = `78px "${FONT}"`;
    ctx.fillText('/s)', w1 + w2, 6);
    ctx.restore();
  });
</script>
</body>
</html>
